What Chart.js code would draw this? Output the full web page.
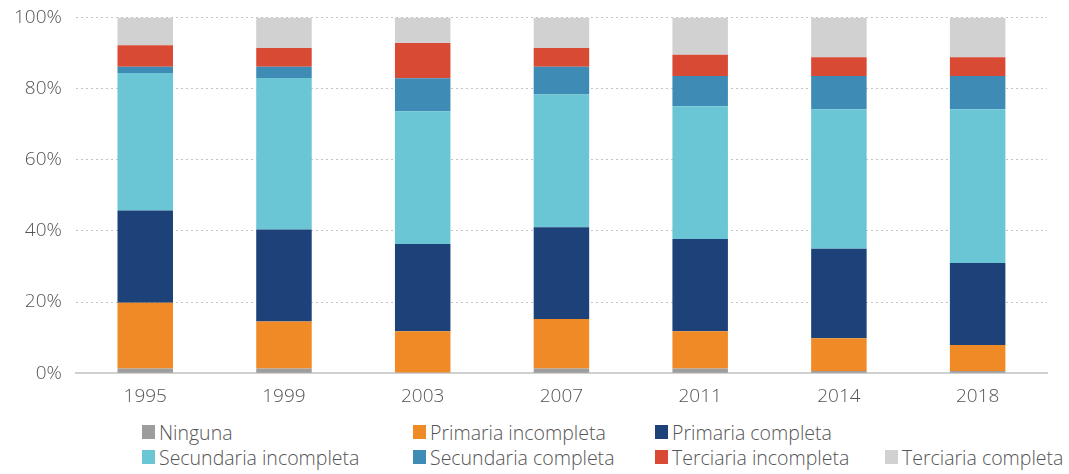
<!DOCTYPE html>
<html>
<head>
<meta charset="utf-8">
<script src="https://cdn.jsdelivr.net/npm/chart.js@4"></script>
<style>
  html, body { margin: 0; padding: 0; background: #fff; }
  #wrap { position: relative; width: 1069px; height: 474px; overflow: hidden; }
  #chart { position: absolute; left: 0; top: -8px; }
  #legend { position: absolute; left: 142px; top: 421px; width: 927px;
    display: grid; grid-template-columns: 271px 242px 230px 190px; row-gap: 3px;
    font-family: "Open Sans", sans-serif; font-weight: 300; font-size: 19.5px; color: #555; }
  #legend .item { display: flex; align-items: center; height: 22px; white-space: nowrap; }
  #legend .box { width: 13px; height: 14px; margin-right: 4px; flex: none; }
  #legend .spacer { height: 22px; }
</style>
</head>
<body>
<div id="wrap">
  <canvas id="chart" width="1069" height="420"></canvas>
  <div id="legend"></div>
</div>
<script>
// --- Datos ---
const years = ["1995", "1999", "2003", "2007", "2011", "2014", "2018"];

const ninguna            = [1.3, 1.3, 0.2, 1.3, 1.3, 0.6, 0.6];
const primariaIncompleta = [18.5, 13.2, 11.6, 13.9, 10.5, 9.2, 7.3];
const primariaCompleta   = [25.9, 25.9, 24.5, 25.8, 25.9, 25.2, 23.1];
const secundariaIncomp   = [38.7, 42.6, 37.3, 37.3, 37.3, 39.2, 43.2];
const secundariaCompleta = [1.7, 3.1, 9.3, 7.8, 8.5, 9.3, 9.3];
const terciariaIncomp    = [6.1, 5.3, 9.9, 5.3, 6.0, 5.3, 5.3];
const terciariaCompleta  = [7.8, 8.6, 7.2, 8.6, 10.5, 11.2, 11.2];

const yTicks = [0, 20, 40, 60, 80, 100];

const series = [
  { label: "Ninguna", data: ninguna, color: "#9d9d9d" },
  { label: "Primaria incompleta", data: primariaIncompleta, color: "#f08a26" },
  { label: "Primaria completa", data: primariaCompleta, color: "#1c4279" },
  { label: "Secundaria incompleta", data: secundariaIncomp, color: "#6ac5d4" },
  { label: "Secundaria completa", data: secundariaCompleta, color: "#3e8cb5" },
  { label: "Terciaria incompleta", data: terciariaIncomp, color: "#d94a34" },
  { label: "Terciaria completa", data: terciariaCompleta, color: "#d1d1d1" }
];

const font = { family: "'Open Sans', sans-serif", size: 19, weight: 300 };

new Chart(document.getElementById("chart"), {
  type: "bar",
  data: {
    labels: years,
    datasets: series.map(s => ({
      label: s.label,
      data: s.data,
      backgroundColor: s.color,
      borderWidth: 0,
      categoryPercentage: 1,
      barPercentage: 0.4
    }))
  },
  options: {
    responsive: false,
    animation: false,
    layout: { padding: { left: 0, right: 22, top: 0, bottom: 0 } },
    plugins: { legend: { display: false }, tooltip: { enabled: false } },
    scales: {
      x: {
        stacked: true,
        grid: { display: false },
        border: { color: "#d0d0d0", width: 2 },
        ticks: { color: "#555", font, padding: 4 }
      },
      y: {
        stacked: true,
        min: 0,
        max: 100,
        afterBuildTicks: axis => { axis.ticks = yTicks.map(v => ({ value: v })); },
        grid: {
          color: ctx => ctx.tick && ctx.tick.value === 0 ? "rgba(0,0,0,0)" : "#c4c4c4",
          lineWidth: 1,
          drawTicks: false
        },
        border: { display: false, dash: [2, 3] },
        ticks: { color: "#555", font, padding: 14, callback: v => v + "%" }
      }
    }
  }
});

// --- Leyenda ---
const legend = document.getElementById("legend");
series.forEach((s, i) => {
  const item = document.createElement("div");
  item.className = "item";
  item.innerHTML = `<span class="box" style="background:${s.color}"></span>${s.label}`;
  legend.appendChild(item);
  if (i === 2) {
    const sp = document.createElement("div");
    sp.className = "spacer";
    legend.appendChild(sp);
  }
});
</script>
</body>
</html>
